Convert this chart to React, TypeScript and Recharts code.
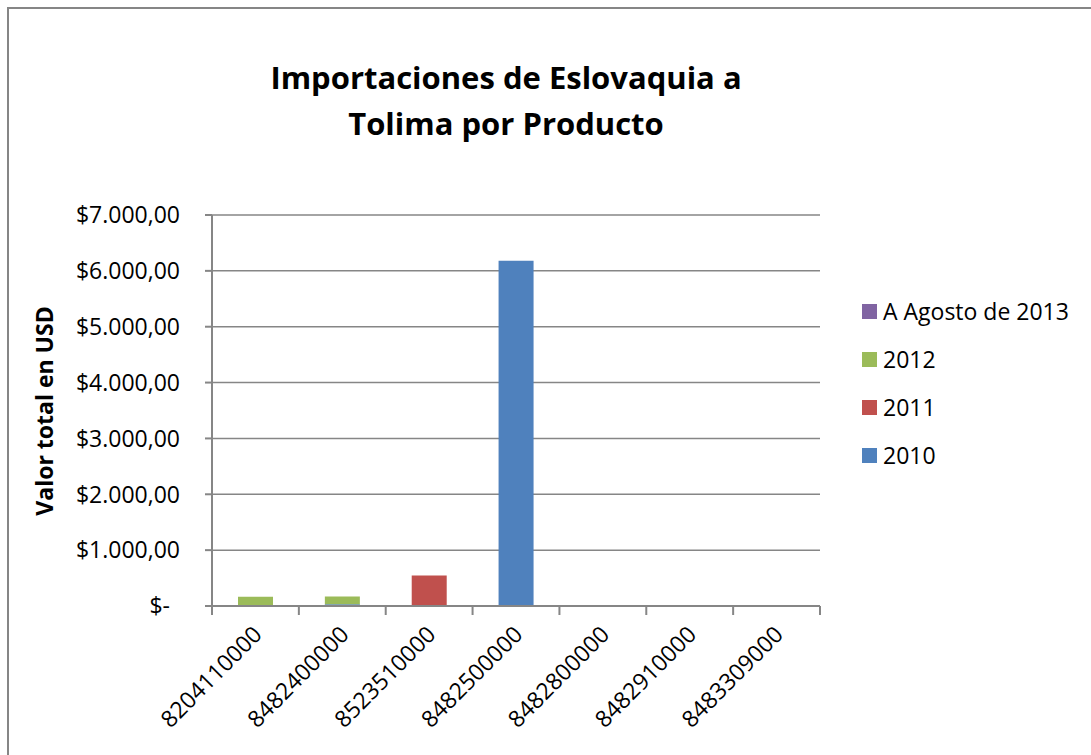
import React from "react";
import { BarChart, Bar, XAxis, YAxis, CartesianGrid, Legend } from "recharts";

const categories = ["8204110000", "8482400000", "8523510000", "8482500000", "8482800000", "8482910000", "8483309000"];
const v2010 = [0, 30, 0, 6180, 0, 0, 0];
const v2011 = [0, 0, 545, 0, 0, 0, 0];
const v2012 = [167, 140, 0, 0, 0, 0, 0];
const v2013 = [0, 0, 0, 0, 0, 0, 0];
const yTicks = [0, 1000, 2000, 3000, 4000, 5000, 6000, 7000];
const seriesNames = ["2010", "2011", "2012", "A Agosto de 2013"];
const colors = ["#4F81BD", "#C0504D", "#9BBB59", "#8064A2"];

const data = categories.map((c, i) => ({
  cat: c,
  s2010: v2010[i],
  s2011: v2011[i],
  s2012: v2012[i],
  s2013: v2013[i],
}));

const FONT = "'Open Sans', 'Noto Sans', sans-serif";
const GRID = "#868686";
const W = 1091;
const H = 755;
const XH = 140;
const M = { top: 215, right: 271, bottom: 149 - XH, left: 12 };
const YW = 200;
const band = (W - M.left - YW - M.right) / categories.length;

function fmt(v: number): string {
  if (v === 0) return "$-";
  const s = Math.round(v).toString().replace(/\B(?=(\d{3})+(?!\d))/g, ".");
  return "$" + s + ",00";
}

const YTick = (props: any) => {
  const { x, y, payload } = props;
  const isZero = payload.value === 0;
  return (
    <text x={isZero ? x - 10 : x} y={y} dy="0.36em" textAnchor="end" fontFamily={FONT} fontSize={23} fill="#000">
      {fmt(payload.value)}
    </text>
  );
};

const XTick = (props: any) => {
  const { x, y, payload, index } = props;
  const axisY = y;
  const left = x - band / 2;
  const tx = x + 8;
  const ty = axisY + 30;
  return (
    <g>
      <line x1={left} y1={axisY} x2={left} y2={axisY + 9} stroke={GRID} strokeWidth={2} />
      {index === categories.length - 1 && (
        <line x1={x + band / 2} y1={axisY} x2={x + band / 2} y2={axisY + 9} stroke={GRID} strokeWidth={2} />
      )}
      <text
        x={tx}
        y={ty}
        textAnchor="end"
        fontFamily={FONT}
        fontSize={23}
        fill="#000"
        transform={`rotate(-45, ${tx}, ${ty})`}
      >
        {payload.value}
      </text>
    </g>
  );
};

const LegendContent = () => {
  const order = [3, 2, 1, 0];
  return (
    <div style={{ fontFamily: FONT, fontSize: 23, color: "#000" }}>
      {order.map((i) => (
        <div key={i} style={{ display: "flex", alignItems: "center", height: 48 }}>
          <div style={{ width: 15, height: 15, background: colors[i], marginRight: 6 }} />
          <span style={{ whiteSpace: "nowrap" }}>{seriesNames[i]}</span>
        </div>
      ))}
    </div>
  );
};

export default function App() {
  return (
    <div style={{ position: "absolute", left: 0, top: 0, width: W, height: H, background: "#fff", overflow: "hidden" }}>
      <div style={{ position: "absolute", left: 7, top: 7, width: 2, height: H, background: GRID }} />
      <div style={{ position: "absolute", left: 7, top: 7, width: W, height: 1.5, background: GRID }} />
      <BarChart
        width={W}
        height={H}
        data={data}
        margin={M}
        barSize={35}
      >
        <CartesianGrid vertical={false} stroke={GRID} strokeWidth={1.5} />
        <XAxis
          dataKey="cat"
          interval={0}
          axisLine={{ stroke: GRID, strokeWidth: 2 }}
          tickLine={false}
          tick={<XTick />}
          tickSize={0}
          tickMargin={0}
          height={XH}
        />
        <YAxis
          width={YW}
          domain={[0, 7000]}
          ticks={yTicks}
          interval={0}
          axisLine={{ stroke: GRID, strokeWidth: 2 }}
          tickLine={{ stroke: GRID, strokeWidth: 2 }}
          tickSize={7}
          tickMargin={25}
          tick={<YTick />}
        />
        <Legend
          layout="horizontal"
          align="center"
          verticalAlign="middle"
          content={<LegendContent />}
          wrapperStyle={{ position: "absolute", left: 862, top: 287, width: 229, bottom: "auto" }}
        />
        <Bar dataKey="s2010" stackId="a" fill={colors[0]} isAnimationActive={false} />
        <Bar dataKey="s2011" stackId="a" fill={colors[1]} isAnimationActive={false} />
        <Bar dataKey="s2012" stackId="a" fill={colors[2]} isAnimationActive={false} />
        <Bar dataKey="s2013" stackId="a" fill={colors[3]} isAnimationActive={false} />
      </BarChart>
      <svg width={W} height={H} style={{ position: "absolute", left: 0, top: 0, pointerEvents: "none" }}>
        <text x={506} y={89} textAnchor="middle" fontFamily={FONT} fontWeight="bold" fontSize={31} fill="#000">
          Importaciones de Eslovaquia a
        </text>
        <text x={506} y={135} textAnchor="middle" fontFamily={FONT} fontWeight="bold" fontSize={31} fill="#000">
          Tolima por Producto
        </text>
        <text
          x={53}
          y={411}
          textAnchor="middle"
          fontFamily={FONT}
          fontWeight="bold"
          fontSize={23}
          fill="#000"
          transform="rotate(-90, 53, 411)"
        >
          Valor total en USD
        </text>
      </svg>
    </div>
  );
}
